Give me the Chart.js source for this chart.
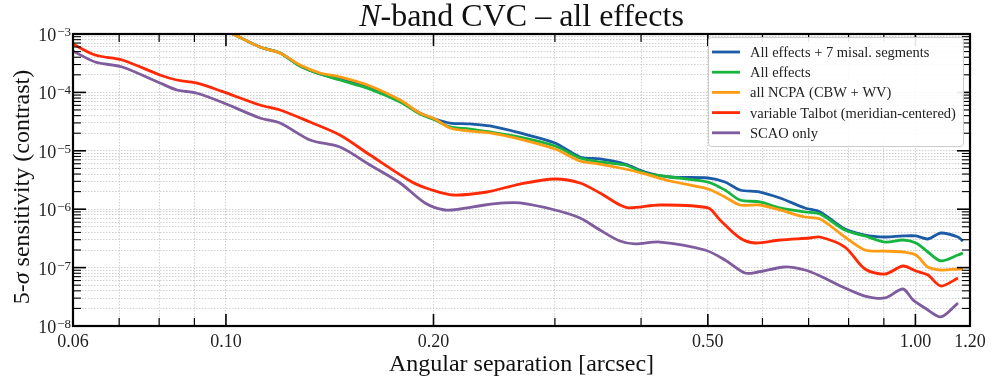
<!DOCTYPE html>
<html>
<head>
<meta charset="utf-8">
<script src="https://cdn.jsdelivr.net/npm/chart.js@4.4.1/dist/chart.umd.min.js"></script>
<style>
  html, body { margin: 0; padding: 0; background: #fff; }
</style>
</head>
<body>
<canvas id="cvcChart" width="992" height="383"></canvas>
<script>
// Angular separation [arcsec] and 5-sigma contrast
const sepMain = [0.100, 0.1024, 0.112, 0.1198, 0.1281, 0.1369, 0.1463, 0.1618, 0.1789, 0.1911,
  0.201, 0.2113, 0.2259, 0.2415, 0.2669, 0.3001, 0.3262, 0.3487, 0.3791, 0.4053,
  0.4405, 0.5002, 0.5294, 0.5566, 0.595, 0.6361, 0.6914, 0.7273, 0.7903, 0.8449,
  0.9034, 0.9594, 1.0018, 1.0428, 1.089, 1.1528, 1.172];

const allMisal = [1.125e-3, 1.0e-3, 5.99e-4, 4.73e-4, 2.83e-4, 2.07e-4, 1.70e-4, 1.19e-4, 7.12e-5, 4.44e-5,
  3.50e-5, 2.99e-5, 2.88e-5, 2.66e-5, 2.02e-5, 1.36e-5, 7.83e-6, 7.24e-6, 5.94e-6, 4.34e-6,
  3.56e-6, 3.42e-6, 2.92e-6, 2.13e-6, 1.97e-6, 1.555e-6, 1.05e-6, 8.96e-7, 4.58e-7, 3.61e-7,
  3.34e-7, 3.48e-7, 3.48e-7, 3.09e-7, 3.91e-7, 3.34e-7, 2.85e-7];

const allEffects = [1.125e-3, 1.0e-3, 5.99e-4, 4.73e-4, 2.83e-4, 2.07e-4, 1.63e-4, 1.14e-4, 6.85e-5, 4.27e-5,
  3.37e-5, 2.56e-5, 2.36e-5, 2.10e-5, 1.72e-5, 1.21e-5, 7.53e-6, 6.43e-6, 5.71e-6, 4.17e-6,
  3.56e-6, 2.92e-6, 2.13e-6, 1.44e-6, 1.33e-6, 1.05e-6, 8.96e-7, 8.28e-7, 4.40e-7, 3.48e-7,
  2.74e-7, 2.97e-7, 2.64e-7, 1.85e-7, 1.30e-7, 1.64e-7, 1.78e-7];

const allNcpa = [1.125e-3, 1.0e-3, 5.99e-4, 4.73e-4, 2.94e-4, 2.15e-4, 1.84e-4, 1.29e-4, 7.41e-5, 4.44e-5,
  3.50e-5, 2.46e-5, 2.18e-5, 2.02e-5, 1.59e-5, 1.074e-5, 6.69e-6, 5.94e-6, 4.88e-6, 4.01e-6,
  3.04e-6, 2.22e-6, 1.62e-6, 1.18e-6, 1.18e-6, 9.7e-7, 7.35e-7, 6.79e-7, 3.34e-7, 2.00e-7,
  1.92e-7, 1.85e-7, 1.64e-7, 1.024e-7, 9.10e-8, 9.46e-8, 9.46e-8];

const sepTalbot = [0.06, 0.0646, 0.0707, 0.0802, 0.0849, 0.0905, 0.0985, 0.112, 0.1198, 0.1324,
  0.1463, 0.1618, 0.1861, 0.199, 0.2134, 0.2391, 0.2669, 0.3001, 0.3262, 0.3487,
  0.3728, 0.3854, 0.4261, 0.5002, 0.5207, 0.5566, 0.5851, 0.6361, 0.7032, 0.7273,
  0.7903, 0.8449, 0.9034, 0.9594, 1.0018, 1.0428, 1.089, 1.1528];
const talbot = [6.74e-4, 4.37e-4, 3.59e-4, 1.99e-4, 1.63e-4, 1.45e-4, 1.05e-4, 6.08e-5, 5.00e-5, 3.11e-5,
  1.86e-5, 8.47e-6, 2.92e-6, 2.13e-6, 1.75e-6, 1.97e-6, 2.70e-6, 3.29e-6, 2.81e-6, 1.89e-6,
  1.18e-6, 1.05e-6, 1.18e-6, 1.05e-6, 6.53e-7, 3.21e-7, 2.64e-7, 2.97e-7, 3.21e-7, 3.34e-7,
  2.25e-7, 9.46e-8, 7.77e-8, 1.065e-7, 8.74e-8, 7.47e-8, 4.84e-8, 6.64e-8];

const sepScao = [0.06, 0.0646, 0.0707, 0.0802, 0.0849, 0.0905, 0.0985, 0.112, 0.1198, 0.1324,
  0.1463, 0.1618, 0.1789, 0.1944, 0.2078, 0.2185, 0.2375, 0.2538, 0.2669, 0.3001,
  0.3262, 0.3487, 0.3728, 0.392, 0.4261, 0.4952, 0.5294, 0.566, 0.5911, 0.6467,
  0.6914, 0.7273, 0.7903, 0.8449, 0.9034, 0.9594, 0.9918, 1.0327, 1.089, 1.1528];
const scao = [5.12e-4, 3.32e-4, 2.72e-4, 1.45e-4, 1.10e-4, 9.77e-5, 6.85e-5, 3.64e-5, 2.99e-5, 1.53e-5,
  1.16e-5, 5.71e-6, 2.81e-6, 1.28e-6, 9.69e-7, 1.008e-6, 1.18e-6, 1.28e-6, 1.28e-6, 9.69e-7,
  7.07e-7, 4.40e-7, 2.85e-7, 2.54e-7, 2.74e-7, 2.00e-7, 1.35e-7, 8.08e-8, 8.41e-8, 1.024e-7,
  9.10e-8, 7.2e-8, 4.47e-8, 3.26e-8, 3.02e-8, 4.30e-8, 2.8e-8, 2.03e-8, 1.43e-8, 2.48e-8];

const seriesLabels = ['All effects + 7 misal. segments', 'All effects', 'all NCPA (CBW + WV)',
  'variable Talbot (meridian-centered)', 'SCAO only'];
const seriesColors = ['#1c5ba6', '#17b53f', '#ff9c14', '#ff2a05', '#7e5c9e'];

const xTicksMajor = [0.06, 0.10, 0.20, 0.50, 1.00, 1.20];
const xTickLabels = ['0.06', '0.10', '0.20', '0.50', '1.00', '1.20'];
const xTicksMinor = [0.07, 0.08, 0.09, 0.3, 0.4, 0.6, 0.7, 0.8, 0.9];
const yExponents = [-8, -7, -6, -5, -4, -3];

const SERIF = '"Liberation Serif", "DejaVu Serif", serif';

function toPoints(xs, ys) {
  return xs.map((v, i) => ({ x: v, y: ys[i] }));
}

// all minor values 2..9 x 10^n inside the y range
const yMinor = [];
yExponents.slice(0, -1).forEach(e => {
  for (let m = 2; m <= 9; m++) yMinor.push(m * Math.pow(10, e));
});
const yMajor = yExponents.map(e => Math.pow(10, e));

// frame, inward ticks, tick labels, titles and legend
const decorations = {
  id: 'decorations',
  afterDraw(chart) {
    const { ctx, chartArea: a } = chart;
    const xs = chart.scales.x, ys = chart.scales.y;
    ctx.save();
    ctx.strokeStyle = '#000';
    const line = (x0, y0, x1, y1, w) => {
      ctx.lineWidth = w;
      ctx.beginPath(); ctx.moveTo(x0, y0); ctx.lineTo(x1, y1); ctx.stroke();
    };

    xTicksMajor.forEach(v => {
      const px = xs.getPixelForValue(v);
      line(px, a.bottom, px, a.bottom - 12, 1.6);
      line(px, a.top, px, a.top + 12, 1.6);
    });
    xTicksMinor.forEach(v => {
      const px = xs.getPixelForValue(v);
      line(px, a.bottom, px, a.bottom - 8, 1.2);
      line(px, a.top, px, a.top + 8, 1.2);
    });
    yMajor.forEach(v => {
      const py = ys.getPixelForValue(v);
      line(a.left, py, a.left + 13, py, 1.6);
      line(a.right, py, a.right - 13, py, 1.6);
    });
    yMinor.forEach(v => {
      const py = ys.getPixelForValue(v);
      line(a.left, py, a.left + 8, py, 1.1);
      line(a.right, py, a.right - 8, py, 1.1);
    });

    ctx.lineWidth = 2.2;
    ctx.strokeRect(a.left, a.top, a.right - a.left, a.bottom - a.top);

    ctx.fillStyle = '#222';
    // x tick labels
    ctx.font = '18px ' + SERIF;
    ctx.textAlign = 'center';
    ctx.textBaseline = 'alphabetic';
    xTicksMajor.forEach((v, i) => {
      ctx.fillText(xTickLabels[i], xs.getPixelForValue(v), a.bottom + 21);
    });

    // y tick labels: 10 with superscript exponent
    ctx.textAlign = 'left';
    yExponents.forEach(e => {
      const py = ys.getPixelForValue(Math.pow(10, e));
      const exp = '\u2212' + Math.abs(e);
      ctx.font = '13px ' + SERIF;
      const ew = ctx.measureText(exp).width;
      ctx.font = '18px ' + SERIF;
      const bw = ctx.measureText('10').width;
      const right = a.left - 2;
      ctx.fillText('10', right - ew - bw - 1, py + 7);
      ctx.font = '13px ' + SERIF;
      ctx.fillText(exp, right - ew, py + 2);
    });

    // mixed roman / italic text pieces
    const drawPieces = (pieces, cx, cy) => {
      let total = 0;
      pieces.forEach(p => { ctx.font = p.font; p.w = ctx.measureText(p.text).width; total += p.w; });
      let xPos = cx - total / 2;
      ctx.textAlign = 'left';
      pieces.forEach(p => { ctx.font = p.font; ctx.fillText(p.text, xPos, cy); xPos += p.w; });
    };

    ctx.fillStyle = '#111';
    drawPieces([
      { text: 'N', font: 'italic 32px ' + SERIF },
      { text: '-band CVC \u2013 all effects', font: '32px ' + SERIF }
    ], (a.left + a.right) / 2, 26);

    drawPieces([{ text: 'Angular separation [arcsec]', font: '24px ' + SERIF }],
      (a.left + a.right) / 2, 371);

    ctx.save();
    ctx.translate(29, 187);
    ctx.rotate(-Math.PI / 2);
    drawPieces([
      { text: '5-', font: '24px ' + SERIF },
      { text: '\u03c3', font: 'italic 24px ' + SERIF },
      { text: ' sensitivity (contrast)', font: '24px ' + SERIF }
    ], 0, 0);
    ctx.restore();

    // legend box in the upper right corner
    const bx = 708, by = 37, bw = 255, bh = 109;
    ctx.fillStyle = 'rgba(255,255,255,0.9)';
    ctx.strokeStyle = '#cccccc';
    ctx.lineWidth = 1;
    ctx.beginPath();
    ctx.roundRect(bx + 0.5, by + 0.5, bw, bh, 3);
    ctx.fill();
    ctx.stroke();
    ctx.font = '14.5px ' + SERIF;
    ctx.textAlign = 'left';
    chart.data.datasets.forEach((ds, i) => {
      const ry = 52 + i * 20.2;
      ctx.strokeStyle = ds.borderColor;
      ctx.lineWidth = 2.8;
      ctx.beginPath(); ctx.moveTo(712, ry); ctx.lineTo(740, ry); ctx.stroke();
      ctx.fillStyle = '#222';
      ctx.fillText(ds.label, 750, ry + 5);
    });
    ctx.restore();
  }
};

const seriesData = [
  toPoints(sepMain, allMisal),
  toPoints(sepMain, allEffects),
  toPoints(sepMain, allNcpa),
  toPoints(sepTalbot, talbot),
  toPoints(sepScao, scao)
];

const ctx = document.getElementById('cvcChart').getContext('2d');
const cvcChart = new Chart(ctx, {
  type: 'line',
  data: {
    datasets: seriesData.map((d, i) => ({
      label: seriesLabels[i],
      data: d,
      borderColor: seriesColors[i],
      borderWidth: 2.8,
      pointRadius: 0,
      tension: 0.3,
      fill: false,
      order: 4 - i // later series drawn on top, like matplotlib
    }))
  },
  options: {
    responsive: false,
    animation: false,
    events: [],
    layout: { padding: { left: 73, right: 22, top: 34, bottom: 57 } },
    plugins: { legend: { display: false }, tooltip: { enabled: false }, title: { display: false } },
    scales: {
      x: {
        type: 'logarithmic',
        min: 0.06,
        max: 1.2,
        ticks: { display: false },
        grid: { color: '#c4c4c4', lineWidth: 0.8, drawTicks: false },
        border: { display: false, dash: [1.5, 1.5] },
        afterBuildTicks: scale => {
          scale.ticks = xTicksMajor.concat(xTicksMinor).sort((p, q) => p - q).map(v => ({ value: v }));
        },
        afterFit: scale => { scale.height = 0; }
      },
      y: {
        type: 'logarithmic',
        min: 1e-8,
        max: 1e-3,
        ticks: { display: false },
        grid: { color: '#c4c4c4', lineWidth: 0.8, drawTicks: false },
        border: { display: false, dash: [1.5, 1.5] },
        afterBuildTicks: scale => {
          scale.ticks = yMajor.concat(yMinor).sort((p, q) => p - q).map(v => ({ value: v }));
        },
        afterFit: scale => { scale.width = 0; }
      }
    }
  },
  plugins: [decorations]
});
</script>
</body>
</html>
